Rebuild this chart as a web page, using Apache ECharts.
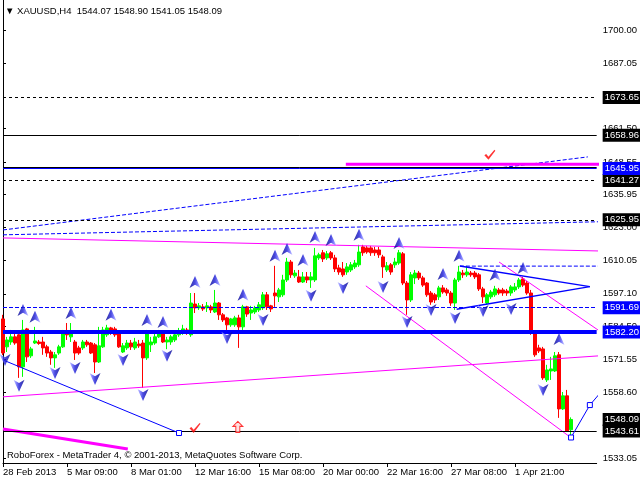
<!DOCTYPE html>
<html><head><meta charset="utf-8">
<script src="https://cdn.jsdelivr.net/npm/echarts@6/dist/echarts.min.js"></script>
<style>html,body{margin:0;padding:0;background:#fff}#c{width:640px;height:480px}</style>
</head><body><div id="c"></div>
<script>
// ---- data (H4 candles, index 0 = 28 Feb 2013) ----
const openP = [1587.3,1576.4,1578.3,1580.3,1581.1,1568.6,1583.4,1572.9,1577.9,1578.3,
1578.3,1576.4,1574.4,1572.1,1574.0,1576.4,1581.8,1580.3,1578.3,1576.0,
1576.0,1578.3,1577.9,1577.2,1570.5,1576.4,1581.1,1583.8,1583.4,1581.8,
1574.4,1576.0,1577.9,1576.0,1577.5,1577.9,1572.1,1577.2,1577.9,1580.3,
1581.8,1578.3,1578.3,1579.1,1581.1,1581.8,1583.0,1581.1,1593.1,1591.6,
1592.0,1591.6,1592.0,1590.0,1593.5,1588.9,1587.7,1585.0,1585.0,1587.7,
1584.2,1592.0,1589.6,1590.0,1590.8,1591.6,1596.7,1592.4,1597.4,1595.9,
1596.7,1602.5,1609.5,1604.1,1603.7,1601.7,1603.7,1602.5,1602.5,1611.1,
1613.1,1611.1,1613.1,1611.1,1607.2,1606.8,1605.6,1606.4,1607.6,1608.4,
1615.4,1615.0,1615.0,1614.2,1614.2,1611.5,1606.4,1608.4,1608.4,1609.1,
1612.7,1601.3,1594.7,1603.3,1605.2,1603.3,1601.3,1597.4,1596.7,1595.9,
1599.4,1598.6,1597.4,1593.5,1602.5,1605.2,1604.5,1605.2,1605.2,1604.5,
1599.0,1593.5,1595.9,1596.7,1598.6,1598.6,1598.2,1597.4,1598.6,1599.8,
1602.9,1601.3,1597.4,1581.9,1576.0,1575.6,1563.5,1567.0,1567.0,1573.3,
1552.2,1557.3,1544.07];
const highP = [1588.9,1580.3,1583.0,1582.2,1581.9,1586.9,1583.8,1576.4,1584.2,1579.1,
1580.3,1577.2,1575.2,1574.4,1577.2,1583.0,1585.7,1585.7,1579.1,1576.8,
1579.1,1579.1,1578.3,1577.9,1584.2,1584.2,1585.0,1584.2,1584.2,1582.2,
1577.9,1579.1,1579.1,1579.9,1579.1,1579.1,1583.0,1580.3,1581.9,1583.0,
1582.6,1580.3,1581.1,1582.2,1583.8,1585.0,1583.8,1597.4,1597.4,1593.5,
1593.1,1593.9,1592.8,1598.6,1593.9,1589.6,1588.1,1587.7,1588.5,1588.9,
1592.8,1592.4,1592.4,1592.4,1593.9,1597.8,1597.8,1592.8,1608.0,1599.4,
1604.5,1611.1,1610.3,1606.4,1606.4,1605.6,1605.6,1605.6,1615.0,1613.1,
1614.2,1613.8,1613.8,1612.3,1608.4,1609.5,1609.1,1609.5,1610.3,1616.2,
1616.2,1615.8,1615.8,1615.4,1615.4,1612.3,1609.5,1609.1,1611.1,1614.2,
1613.4,1602.1,1605.6,1606.4,1606.0,1604.1,1601.7,1598.2,1597.4,1600.2,
1600.5,1599.4,1598.2,1603.3,1608.0,1606.4,1608.0,1606.0,1606.0,1605.2,
1599.8,1597.4,1598.6,1600.2,1599.4,1599.4,1599.0,1600.5,1601.3,1603.3,
1603.7,1602.1,1598.6,1582.2,1577.2,1576.4,1569.4,1572.5,1574.4,1574.4,
1558.8,1559.6,1548.90];
const lowP = [1573.2,1574.4,1577.2,1577.2,1564.3,1564.7,1570.5,1572.1,1577.5,1577.2,
1573.3,1572.5,1569.4,1568.2,1573.3,1576.0,1579.1,1578.3,1571.3,1573.3,
1575.2,1576.4,1573.6,1566.2,1570.1,1576.0,1580.3,1581.1,1580.3,1576.0,
1574.0,1575.2,1575.2,1575.2,1576.0,1560.4,1571.3,1574.4,1577.2,1579.9,
1577.9,1575.5,1577.2,1578.3,1580.3,1581.1,1581.1,1580.3,1589.6,1590.8,
1590.4,1590.0,1589.6,1589.6,1586.9,1586.1,1583.0,1584.2,1584.2,1576.0,
1583.0,1588.1,1586.9,1589.2,1590.0,1590.8,1590.8,1590.0,1592.0,1593.9,
1595.9,1601.7,1603.3,1603.3,1601.3,1601.3,1601.3,1599.4,1601.7,1610.3,
1609.5,1610.3,1610.3,1605.6,1604.5,1603.7,1604.5,1605.6,1606.8,1607.6,
1611.9,1612.7,1611.9,1611.9,1611.1,1603.3,1605.6,1604.5,1607.2,1608.4,
1600.5,1588.9,1593.9,1600.9,1602.5,1599.8,1595.9,1592.8,1593.5,1594.7,
1597.1,1596.3,1592.4,1590.8,1601.7,1603.3,1603.7,1603.7,1602.9,1598.2,
1593.5,1592.8,1595.1,1595.9,1596.7,1596.3,1596.3,1596.3,1597.8,1599.0,
1599.8,1596.7,1581.1,1572.5,1574.0,1563.5,1562.7,1563.5,1566.6,1548.7,
1551.8,1543.2,1541.05];
const closeP = [1574.0,1579.1,1580.3,1577.9,1568.6,1583.0,1572.5,1575.6,1578.7,1577.7,
1576.0,1574.0,1572.1,1573.3,1576.4,1582.2,1581.1,1581.8,1574.0,1574.0,
1578.3,1577.2,1574.0,1570.5,1576.8,1583.0,1583.8,1581.8,1581.1,1576.4,
1576.8,1577.9,1576.4,1578.3,1576.8,1572.1,1581.8,1578.3,1580.3,1581.8,
1578.3,1579.1,1580.3,1581.1,1582.2,1583.4,1581.8,1593.5,1591.6,1592.4,
1591.2,1592.4,1590.8,1593.5,1588.9,1586.9,1585.0,1587.3,1587.7,1584.2,
1592.0,1589.2,1590.8,1591.6,1592.8,1596.7,1592.0,1591.2,1596.3,1598.6,
1602.5,1609.5,1604.5,1605.2,1601.7,1603.7,1602.5,1603.7,1611.9,1612.3,
1610.7,1612.7,1611.1,1606.8,1605.6,1604.5,1607.6,1608.4,1609.1,1613.4,
1613.1,1613.4,1613.1,1613.1,1612.3,1607.6,1608.0,1605.6,1609.5,1613.1,
1601.3,1594.7,1604.5,1605.2,1603.3,1600.5,1596.7,1593.9,1594.7,1599.4,
1597.8,1597.4,1593.5,1602.5,1605.6,1604.5,1605.6,1604.5,1603.7,1599.0,
1595.9,1596.7,1597.8,1599.0,1597.4,1597.4,1597.4,1599.8,1599.8,1602.5,
1600.5,1597.4,1581.9,1573.3,1574.8,1564.3,1567.4,1567.8,1572.9,1552.2,
1557.3,1543.6,1548.09];

const symbolName = 'XAUUSD,H4';
const xTickLabels = ['28 Feb 2013','5 Mar 09:00','8 Mar 01:00','12 Mar 16:00','15 Mar 08:00','20 Mar 00:00','22 Mar 16:00','27 Mar 08:00','1 Apr 21:00'];
const barsPerXTick = 16;
const yTickValues = [1700.00,1687.05,1661.50,1648.55,1635.95,1623.00,1610.05,1597.10,1584.50,1571.55,1558.60,1533.05];

// fractal arrows [bar index, price]
const fractalUp = [[5,1590.8],[8,1588.1],[17,1589.6],[27,1588.9],[36,1586.9],[40,1586.1],[48,1601.7],[53,1602.5],[60,1596.7],[68,1611.9],[71,1614.6],[75,1610.3],[78,1619.3],[82,1618.1],[89,1620.1],[99,1616.9],[110,1604.8],[114,1611.9],[123,1604.5],[130,1607.2],[139,1579.5]];
const fractalDown = [[0.5,1571.3],[4,1561.2],[13,1566.2],[18,1568.2],[23,1563.9],[30,1571.3],[35,1557.6],[41,1572.9],[56,1579.9],[65,1586.9],[77,1596.3],[85,1599.4],[95,1599.8],[101,1586.1],[107,1590.8],[113,1587.7],[120,1590.4],[127,1591.2],[135,1559.6]];

// horizontal levels
const blackDashedLevels = [1673.65,1641.27,1625.95];
const blackSolidLevels = [1658.96,1543.61];
const bidLevels = [1548.09];
const blueDoubleLevels = [1645.95];
const blueThickLevels = [1582.20];
const blueDashedLevels = [1591.69];

// trend lines [bar index, price]
const blueDottedLong = [[0,1622.0],[146.2,1650.5]];
const blueDashedLong = [[0,1620.1],[149,1625.2]];
const channelTop = [[0,1618.9],[149,1613.8]];
const channelBottom = [[0,1556.9],[149,1572.9]];
const magentaDown1 = [[90.7,1600.2],[141.7,1541.3]];
const magentaDown2 = [[124,1609.5],[149,1582.7]];
const magentaThickLow = [[0,1544.4],[31.2,1536.6]];
const magentaThickHigh = [[85.7,1647.6],[149,1647.6]];
const blueDown = [[0,1571.3],[44,1542.8]];
const triUpper = [[114.2,1607.9],[146.7,1599.9]];
const triLower = [[113.4,1591.1],[146.7,1599.9]];
const blueDashShort = [[114.2,1607.9],[149,1607.9]];
const forecast = [[142,1541.05],[146.7,1553.7],[149,1557.9]];
const checkMarks = [[121.7,1651.3],[48,1544.8]];
const hollowArrows = [[58.7,1545.2]];

// ---- chart ----
const FONT = 'Liberation Sans';
const xMax = 148.4, yMin = 1531.1, yMax = 1711.7;
const candles = openP.map((o,i)=>[i,o,closeP[i],lowP[i],highP[i]]);
const xTickIdx = xTickLabels.map((_,k)=>k*barsPerXTick);
const last = openP.length-1;
const header = '\u25BC ' + symbolName + '  ' + [openP[last],highP[last],lowP[last],closeP[last]].map(v=>v.toFixed(2)).join(' ');

function tag(bg){return {show:true,position:'end',distance:6,formatter:p=>Number(p.value).toFixed(2),color:'#fff',backgroundColor:bg,padding:[2,4,1,2],fontSize:9.5,fontFamily:FONT,lineHeight:10};}
const mlData = [];
blackDashedLevels.forEach(v=>mlData.push({yAxis:v,lineStyle:{color:'#000',width:1,type:[3,3]},label:tag('#000')}));
blackSolidLevels.forEach(v=>mlData.push({yAxis:v,lineStyle:{color:'#000',width:1,type:'solid'},label:tag('#000')}));
bidLevels.forEach(v=>mlData.push({yAxis:v,lineStyle:{color:'rgba(0,0,0,0)',width:1},label:tag('#000')}));
blueDoubleLevels.forEach(v=>{
  mlData.push({yAxis:v+0.4,lineStyle:{color:'#000',width:1,type:'solid'},label:{show:false}});
  mlData.push({yAxis:v,lineStyle:{color:'#0000ff',width:1,type:'solid'},label:tag('#0000ff')});
});
blueThickLevels.forEach(v=>mlData.push({yAxis:v,lineStyle:{color:'#0000ff',width:4,type:'solid'},label:tag('#0000ff')}));
blueDashedLevels.forEach(v=>mlData.push({yAxis:v,lineStyle:{color:'#0000ff',width:1,type:[4,2]},label:tag('#0000ff')}));

function seg(data,color,width,type,extra){
  return Object.assign({type:'line',data:data,symbol:'none',silent:true,z:4,lineStyle:{color:color,width:width,type:type}},extra||{});
}
const ARROW = 'path://M5,0 L10,11 L5,8 L0,11 Z';
const arrowFill = {type:'linear',x:0,y:0,x2:1,y2:0,colorStops:[{offset:0,color:'#00008a'},{offset:0.5,color:'#1c1cd8'},{offset:0.75,color:'#6a6aff'},{offset:1,color:'#c4c4ff'}]};

const option = {
  animation:false,
  backgroundColor:'#fff',
  title:[
    {text:header,left:5,top:6,padding:0,textStyle:{fontFamily:FONT,fontSize:9.5,fontWeight:'normal',color:'#000'}},
    {text:'RoboForex - MetaTrader 4, \u00A9 2001-2013, MetaQuotes Software Corp.',left:7,top:450,padding:0,textStyle:{fontFamily:FONT,fontSize:9.5,fontWeight:'normal',color:'#000'}}
  ],
  grid:{left:3,right:43,top:0,bottom:17,containLabel:false},
  xAxis:{type:'value',min:0,max:xMax,
    axisLine:{show:true,lineStyle:{color:'#000',width:1}},
    axisTick:{show:true,length:4,customValues:xTickIdx,lineStyle:{color:'#000'}},
    axisLabel:{show:true,customValues:xTickIdx,align:'left',margin:4,color:'#000',fontFamily:FONT,fontSize:9.5,
      formatter:v=>xTickLabels[Math.round(v/barsPerXTick)]||''},
    splitLine:{show:false}},
  yAxis:[
    {type:'value',position:'right',min:yMin,max:yMax,
      axisLine:{show:true,lineStyle:{color:'#000',width:1}},
      axisTick:{show:true,length:3,customValues:yTickValues,lineStyle:{color:'#000'}},
      axisLabel:{show:true,customValues:yTickValues,margin:6,color:'#000',fontFamily:FONT,fontSize:9.5,formatter:v=>v.toFixed(2)},
      splitLine:{show:false}},
    {type:'value',position:'left',min:yMin,max:yMax,
      axisLine:{show:true,onZero:false,lineStyle:{color:'#000',width:1}},
      axisTick:{show:false},axisLabel:{show:false},splitLine:{show:false}}
  ],
  series:[
    seg(blueDottedLong,'#0000ff',1,[4,2]),
    seg(blueDashedLong,'#0000ff',1,[4,2]),
    seg(channelTop,'#ff00ff',1,'solid'),
    seg(channelBottom,'#ff00ff',1,'solid'),
    seg(magentaDown1,'#ff00ff',1,'solid'),
    seg(magentaDown2,'#ff00ff',1,'solid'),
    seg(magentaThickLow,'#ff00ff',3,'solid'),
    seg(magentaThickHigh,'#ff00ff',3,'solid'),
    seg(blueDashShort,'#0000ff',1,[4,2]),
    seg(triUpper,'#0000ff',1.5,'solid'),
    seg(triLower,'#0000ff',1.5,'solid'),
    {type:'candlestick',data:candles,encode:{x:0,y:[1,2,3,4]},barWidth:3,z:3,silent:true,
      itemStyle:{color:'#00ff00',color0:'#ff0000',borderColor:'#00ff00',borderColor0:'#ff0000',borderWidth:1},
      markLine:{silent:true,symbol:['none','none'],animation:false,data:mlData}},
    seg(blueDown.map((p,k)=>({value:p,symbol:k===blueDown.length-1?'rect':'none'})),'#0000ff',1,'solid',
      {symbol:'rect',symbolSize:5,showSymbol:true,showAllSymbol:true,itemStyle:{color:'#fff',borderColor:'#0000ff',borderWidth:1},z:7}),
    seg(forecast,'#0000ff',1,'solid',
      {symbol:'rect',symbolSize:5,showSymbol:true,showAllSymbol:true,itemStyle:{color:'#fff',borderColor:'#0000ff',borderWidth:1},z:7}),
    {type:'scatter',data:fractalUp,symbol:ARROW,symbolSize:[11,12],silent:true,z:8,itemStyle:{color:arrowFill}},
    {type:'scatter',data:fractalDown,symbol:ARROW,symbolRotate:180,symbolSize:[11,12],silent:true,z:8,itemStyle:{color:arrowFill}},
    {type:'scatter',data:checkMarks,symbol:'path://M0,6 L2,4.5 L4.5,7.5 L11,0 L12,1 L4.5,11 Z',symbolSize:[11,10],silent:true,z:8,itemStyle:{color:'#ff0000'}},
    {type:'scatter',data:hollowArrows,symbol:'path://M5,0 L10,5 L7,5 L7,11 L3,11 L3,5 L0,5 Z',symbolSize:[10,11],silent:true,z:8,itemStyle:{color:'#ffd8d8',borderColor:'#ff0000',borderWidth:1}}
  ]
};
const chart = echarts.init(document.getElementById('c'));
chart.setOption(option);
</script>
</body></html>
